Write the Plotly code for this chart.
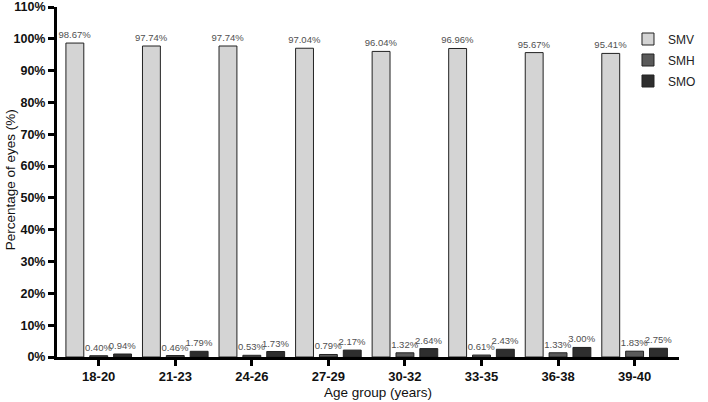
import plotly.graph_objects as go

categories = ["18-20", "21-23", "24-26", "27-29", "30-32", "33-35", "36-38", "39-40"]
smv = [98.67, 97.74, 97.74, 97.04, 96.04, 96.96, 95.67, 95.41]
smh = [0.40, 0.46, 0.53, 0.79, 1.32, 0.61, 1.33, 1.83]
smo = [0.94, 1.79, 1.73, 2.17, 2.64, 2.43, 3.00, 2.75]
y_ticks = list(range(0, 111, 10))
y_tick_text = [f"{v}%" for v in y_ticks]

series = [("SMV", smv, "#d4d4d4"), ("SMH", smh, "#5a5a5a"), ("SMO", smo, "#2e2e2e")]

fig = go.Figure()
for name, vals, col in series:
    fig.add_trace(go.Bar(
        x=categories, y=vals, name=name, legendgroup=name,
        marker=dict(color=col, line=dict(color="#222222", width=1)),
        text=[f"{v:.2f}%" for v in vals], textposition="outside",
        constraintext="none",
        textfont=dict(size=9.5, color="#505050", family="Arial"),
        cliponaxis=False,
    ))

fig.update_layout(
    width=708, height=402,
    margin=dict(l=57, r=25, t=7, b=45),
    plot_bgcolor="white", paper_bgcolor="white",
    barmode="group", bargap=0.065, bargroupgap=0.25,
    font=dict(family="Arial", color="#111111"),
    legend=dict(x=0.918, y=0.95, xanchor="left", yanchor="top",
                font=dict(size=12, color="#222222"), tracegroupgap=2,
                bgcolor="rgba(0,0,0,0)"),
    xaxis=dict(range=[-0.545, 7.58], showline=True, linecolor="black", linewidth=2.5,
               ticks="outside", ticklen=6, tickwidth=2.5, tickcolor="black",
               automargin=False,
               tickfont=dict(size=13, family="Arial", color="#111111", weight="bold")),
    yaxis=dict(range=[0, 110], tickvals=y_ticks, ticktext=y_tick_text,
               showline=True, linecolor="black", linewidth=3,
               ticks="outside", ticklen=6, tickwidth=2.5, tickcolor="black",
               showgrid=False, zeroline=False, automargin=False,
               ticklabeloverflow="allow",
               tickfont=dict(size=12.5, family="Arial", color="#111111", weight="bold")),
    annotations=[
        dict(text="Age group (years)", xref="paper", yref="paper",
             x=(380 - 57) / 626, y=-(393 - 357) / 350, xanchor="center", yanchor="middle",
             showarrow=False, font=dict(size=13.5, color="#111111")),
        dict(text="Percentage of eyes (%)", xref="paper", yref="paper",
             x=-(57 - 10) / 626, y=(357 - 180) / 350, xanchor="center", yanchor="middle",
             textangle=-90, showarrow=False, font=dict(size=13.5, color="#111111")),
    ],
)
fig.write_html("out.html", config={"displayModeBar": False},
               post_script="document.body.style.margin='0';")
